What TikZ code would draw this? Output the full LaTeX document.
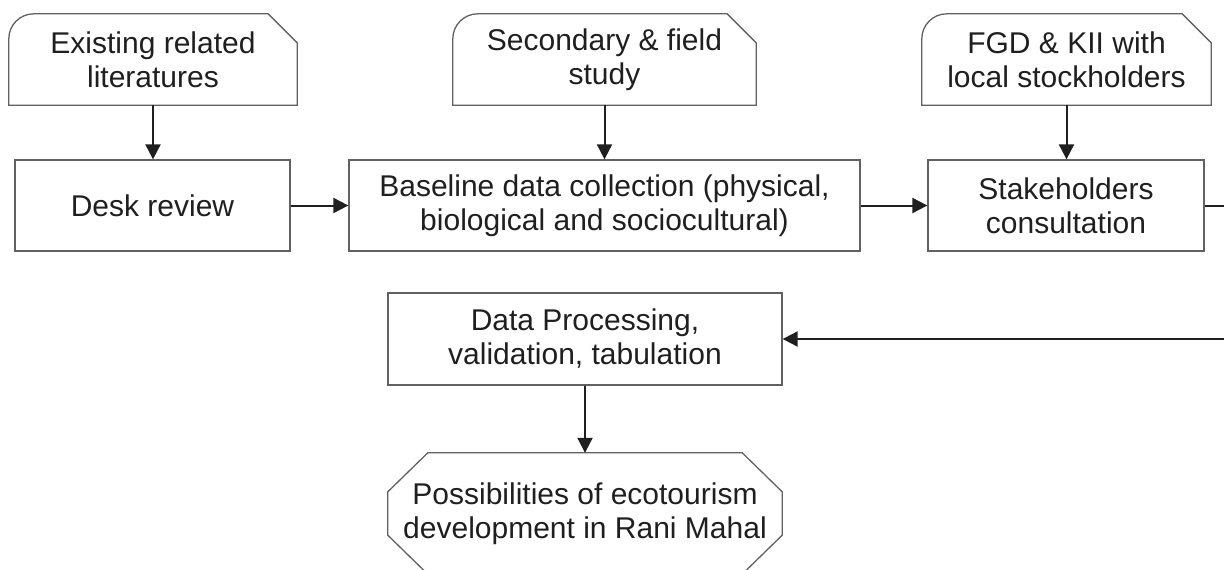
\documentclass[tikz,border=0pt]{standalone}
\usepackage{fontspec}
\setmainfont{Liberation Sans}
\usepackage{tikz}
\usetikzlibrary{arrows.meta}
\def\cardoutline(#1){
    \draw [shapeline] (#1.south west) -- ([yshift=-25pt]#1.north west)
        arc [start angle=180, end angle=90, radius=25pt]
        -- ([xshift=-29pt]#1.north east) -- ([yshift=-29pt]#1.north east)
        -- (#1.south east) -- cycle;
}
\def\octoutline(#1){
    \draw [shapeline] ([xshift=40pt]#1.north west) -- ([xshift=-40pt]#1.north east)
        -- ([yshift=-39pt]#1.north east) -- ([yshift=39pt]#1.south east)
        -- ([xshift=-40pt]#1.south east) -- ([xshift=40pt]#1.south west)
        -- ([yshift=39pt]#1.south west) -- ([yshift=-39pt]#1.north west) -- cycle;
}
\tikzstyle{every node}=[font=\fontsize{30}{34}\selectfont, text=black!88]
\tikzstyle{shapeline}=[draw=black!62, line width=1.3pt]
\tikzstyle{box}=[shapeline, minimum height=91pt, inner sep=0pt, align=center]
\tikzstyle{card}=[minimum height=91pt, inner sep=0pt, align=center]
\tikzstyle{flow}=[->, line width=2pt, draw=black!88]

\begin{document}
\begin{tikzpicture}[x=1pt, y=-1pt, >={Triangle[length=15pt, width=15pt]}]
        \useasboundingbox (0, 0) rectangle (1224, 570);
        \node [card, minimum width=288pt] (lit) at (153, 59.5) {Existing related\\literatures};
        \node [card, minimum width=303pt] (sec) at (604.5, 59.5) {Secondary \& field\\study};
        \node [card, minimum width=289pt] (fgd) at (1066.5, 59.5) {FGD \& KII with\\local stockholders};
        \cardoutline(lit)
        \cardoutline(sec)
        \cardoutline(fgd)
        \node [box, minimum width=275pt] (desk) at (152.5, 205.5) {Desk review};
        \node [box, minimum width=511pt] (base) at (604.5, 205.5) {Baseline data collection (physical,\\biological and sociocultural)};
        \node [box, minimum width=276pt] (stake) at (1066, 205.5) {Stakeholders\\consultation};
        \node [box, minimum width=394pt, minimum height=92pt] (proc) at (585, 339) {Data Processing,\\validation, tabulation};
        \node [card, minimum width=394pt, minimum height=121pt] (goal) at (585, 513.5) {Possibilities of ecotourism\\development in Rani Mahal};
        \octoutline(goal)
        \draw [flow] (lit.south) -- (lit.south |- desk.north);
        \draw [flow] (sec.south) -- (base.north);
        \draw [flow] (fgd.south) -- (fgd.south |- stake.north);
        \draw [flow] (desk) -- (base);
        \draw [flow] (base) -- (stake);
        \draw [flow] (stake.east) -- ++(30, 0) |- (proc.east);
        \draw [flow] (proc.south) -- (proc.south |- goal.north);
    \end{tikzpicture}
\end{document}
